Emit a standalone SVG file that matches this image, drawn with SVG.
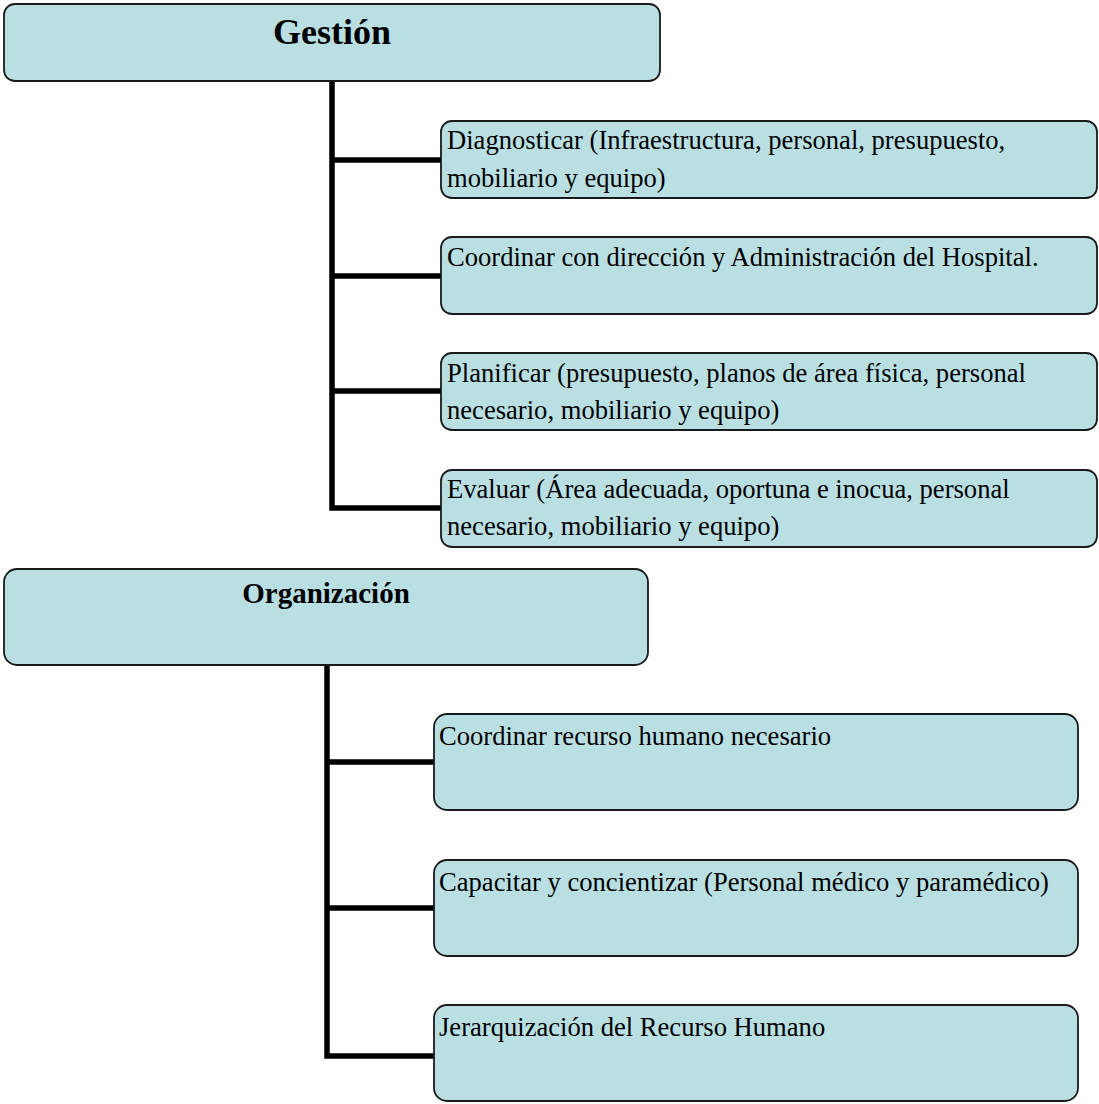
<svg xmlns="http://www.w3.org/2000/svg" width="1099" height="1104" viewBox="0 0 1099 1104">
<style>
.box{fill:#b9dfe3;stroke:#1a1a1a;stroke-width:1.8}
.t{font-family:"Liberation Serif","Times New Roman",serif;font-size:26.6px;fill:#000}
.h{font-family:"Liberation Serif","Times New Roman",serif;font-weight:bold;fill:#000;text-anchor:middle}
.c{fill:none;stroke:#000;stroke-width:5.5}
</style>
<rect width="1099" height="1104" fill="#fff"/>
<g id="connectors">
<path class="c" d="M332 82 V508 H441"/>
<path class="c" d="M332 160 H441 M332 276 H441 M332 391 H441"/>
<path class="c" d="M327 665 V1056 H434"/>
<path class="c" d="M327 762 H434 M327 908 H434"/>
</g>
<g id="gestion">
<rect class="box" x="4" y="4" width="656" height="77" rx="11"/>
<text class="h" x="332" y="44" font-size="36">Gestión</text>
</g>
<g id="diagnosticar">
<rect class="box" x="441" y="121" width="656" height="77" rx="11"/>
<text class="t" x="447" y="149">Diagnosticar (Infraestructura, personal, presupuesto,</text>
<text class="t" x="447" y="187">mobiliario y equipo)</text>
</g>
<g id="coordinar">
<rect class="box" x="441" y="237" width="656" height="77" rx="11"/>
<text class="t" x="447" y="266">Coordinar con dirección y Administración del Hospital.</text>
</g>
<g id="planificar">
<rect class="box" x="441" y="353" width="656" height="77" rx="11"/>
<text class="t" x="447" y="382">Planificar (presupuesto, planos de área física, personal</text>
<text class="t" x="447" y="419">necesario, mobiliario y equipo)</text>
</g>
<g id="evaluar">
<rect class="box" x="441" y="470" width="656" height="77" rx="11"/>
<text class="t" x="447" y="498">Evaluar (Área adecuada, oportuna e inocua, personal</text>
<text class="t" x="447" y="535">necesario, mobiliario y equipo)</text>
</g>
<g id="organizacion">
<rect class="box" x="4" y="569" width="644" height="96" rx="13"/>
<text class="h" x="326" y="603" font-size="29">Organización</text>
</g>
<g id="recurso">
<rect class="box" x="434" y="714" width="644" height="96" rx="13"/>
<text class="t" x="439" y="745">Coordinar recurso humano necesario</text>
</g>
<g id="capacitar">
<rect class="box" x="434" y="860" width="644" height="96" rx="13"/>
<text class="t" x="439" y="891">Capacitar y concientizar (Personal médico y paramédico)</text>
</g>
<g id="jerarquizacion">
<rect class="box" x="434" y="1005" width="644" height="96" rx="13"/>
<text class="t" x="439" y="1036">Jerarquización del Recurso Humano</text>
</g>
</svg>
